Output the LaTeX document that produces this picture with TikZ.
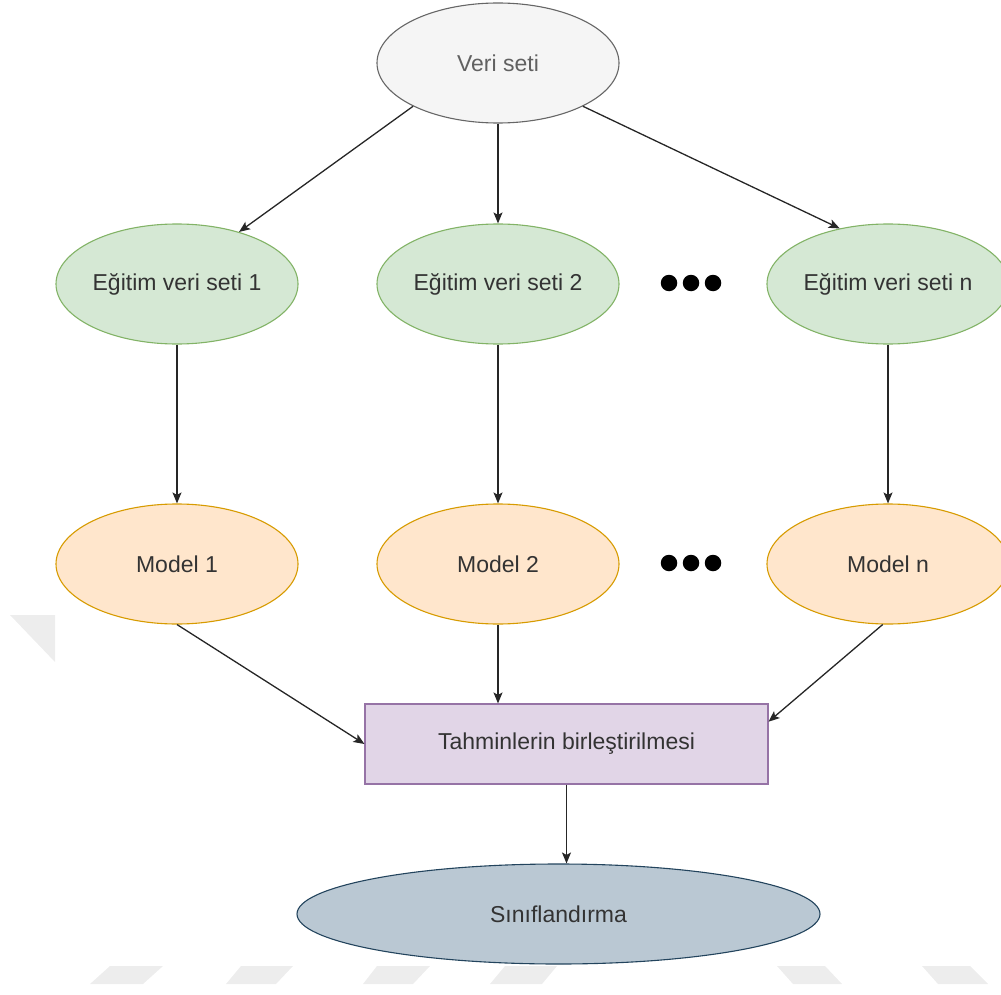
\documentclass[tikz,border=0pt]{standalone}
\usepackage{fontspec}
\setmainfont{Liberation Sans}
\usetikzlibrary{shapes.geometric,arrows.meta,calc}

\definecolor{txt}{HTML}{333333}
\definecolor{grayfill}{HTML}{F5F5F5}
\definecolor{grayline}{HTML}{666666}
\definecolor{greenfill}{HTML}{D5E8D4}
\definecolor{greenline}{HTML}{82B366}
\definecolor{orangefill}{HTML}{FFE6CC}
\definecolor{orangeline}{HTML}{D79B00}
\definecolor{purplefill}{HTML}{E1D5E7}
\definecolor{purpleline}{HTML}{9673A6}
\definecolor{bluefill}{HTML}{BAC8D3}
\definecolor{blueline}{HTML}{23445D}
\definecolor{wmark}{HTML}{EDEDED}

% label of fixed-size shapes: zero-width box so the shape keeps its size
\newcommand{\lbl}[1]{\makebox[0pt][c]{#1}}

\begin{document}
\begin{tikzpicture}[x=1pt,y=-1pt,
  base/.style={draw, line width=1.1pt, inner sep=0pt, text=txt,
    font=\fontsize{23}{27}\selectfont},
  oval/.style={base, ellipse, minimum width=242pt, minimum height=120pt},
  greyoval/.style={oval, fill=grayfill, draw=grayline, text=black!62},
  greenoval/.style={oval, fill=greenfill, draw=greenline},
  orangeoval/.style={oval, fill=orangefill, draw=orangeline},
  combbox/.style={base, rectangle, fill=purplefill, draw=purpleline,
    minimum width=403pt, minimum height=80pt},
  resoval/.style={base, ellipse, fill=bluefill, draw=blueline,
    minimum width=523pt, minimum height=100pt},
  dot/.style={circle, fill=black, inner sep=0pt, minimum size=16.5pt},
  arr/.style={-{Stealth[length=11pt,width=9pt,inset=2.5pt]}, line width=1.3pt, black!85},
  wm/.style={fill=wmark, draw=none}]

\useasboundingbox (0,0) rectangle (1001,995);

% faint background marks
\fill[wm] (10,615) -- (55,615) -- (55,662) -- cycle;
\fill[wm] (110,966) -- (163,966) -- (143,984) -- (90,984) -- cycle;
\fill[wm] (241,966) -- (293,966) -- (276,984) -- (226,984) -- cycle;
\fill[wm] (377,966) -- (430,966) -- (413,984) -- (363,984) -- cycle;
\fill[wm] (505,966) -- (557,966) -- (542,984) -- (490,984) -- cycle;
\fill[wm] (777,966) -- (825,966) -- (842,984) -- (793,984) -- cycle;
\fill[wm] (922,966) -- (970,966) -- (988,984) -- (938,984) -- cycle;

% data set
\node[greyoval] (veri) at (498,63) {\lbl{Veri seti}};

% training sets
\node[greenoval] (e1) at (177,284) {\lbl{Eğitim veri seti 1}};
\node[greenoval] (e2) at (498,284) {\lbl{Eğitim veri seti 2}};
\node[greenoval] (en) at (888,284) {\lbl{Eğitim veri seti n}};

% models
\node[orangeoval] (m1) at (177,564) {\lbl{Model 1}};
\node[orangeoval] (m2) at (498,564) {\lbl{Model 2}};
\node[orangeoval] (mn) at (888,564) {\lbl{Model n}};

% ellipsis dots
\node[dot] (da1) at (669,283) {};
\node[dot] (da2) at (691,283) {};
\node[dot] (da3) at (713,283) {};
\node[dot] (db1) at (669,563) {};
\node[dot] (db2) at (691,563) {};
\node[dot] (db3) at (713,563) {};

% combination and result
\node[combbox] (comb) at (566.5,744) {\lbl{Tahminlerin birleştirilmesi}};
\node[resoval] (sinif) at (558.5,914) {\lbl{Sınıflandırma}};

% connectors
\draw[arr] (veri.207) -- (e1.40);
\draw[arr] (veri.south) -- (e2.north);
\draw[arr] (veri.333) -- (en.131);

\draw[arr] (e1.south) -- (m1.north);
\draw[arr] (e2.south) -- (m2.north);
\draw[arr] (en.south) -- (mn.north);

\draw[arr] (m1.south) -- (comb.west);
\draw[arr] (m2.south) -- (m2.south |- comb.north);
\draw[arr] (mn.265) -- ($(comb.north east)!0.225!(comb.south east)$);

\draw[arr] (comb.south) -- (comb.south |- sinif.north);
\end{tikzpicture}
\end{document}
